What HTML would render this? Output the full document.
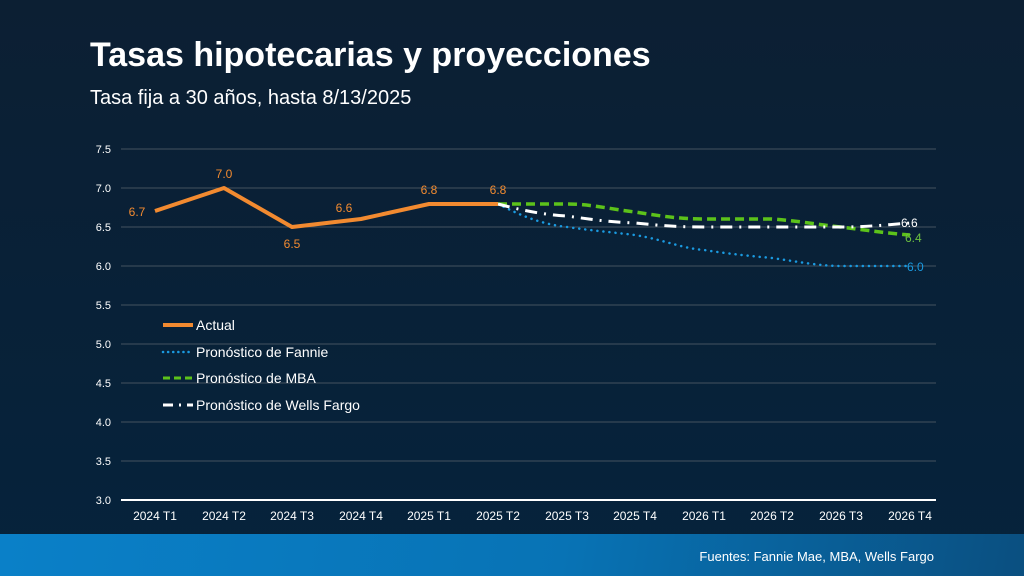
<!DOCTYPE html>
<html><head><meta charset="utf-8"><style>
html,body{margin:0;padding:0}
body{width:1024px;height:576px;overflow:hidden;position:relative;font-family:"Liberation Sans",Arial,sans-serif;background:linear-gradient(180deg,#0c1f33 0%,#05233c 100%)}
.t{position:absolute;left:90px;top:36px;color:#fff;font-size:34px;font-weight:bold}
.s{position:absolute;left:90px;top:87px;color:#fff;font-size:20px}
.bar{position:absolute;left:0;top:534px;width:1024px;height:42px;background:linear-gradient(100deg,#0a80c8 0%,#0873b5 55%,#0a4f80 100%)}
.src{position:absolute;right:90px;top:549px;color:#fff;font-size:13px}
svg{position:absolute;left:0;top:0}
</style></head><body>
<div class="t">Tasas hipotecarias y proyecciones</div>
<div class="s">Tasa fija a 30 años, hasta 8/13/2025</div>
<svg width="1024" height="534" font-family="Liberation Sans,Arial,sans-serif">
<g stroke="#44525f" stroke-width="1">
<line x1="121" x2="936" y1="149" y2="149"/><line x1="121" x2="936" y1="188" y2="188"/><line x1="121" x2="936" y1="227" y2="227"/><line x1="121" x2="936" y1="266" y2="266"/><line x1="121" x2="936" y1="305" y2="305"/><line x1="121" x2="936" y1="344" y2="344"/><line x1="121" x2="936" y1="383" y2="383"/><line x1="121" x2="936" y1="422" y2="422"/><line x1="121" x2="936" y1="461" y2="461"/>
</g>
<line x1="121" x2="936" y1="500" y2="500" stroke="#fff" stroke-width="2"/>
<g fill="#fff" font-size="11" text-anchor="end">
<text x="111" y="153">7.5</text><text x="111" y="192">7.0</text><text x="111" y="231">6.5</text><text x="111" y="270">6.0</text><text x="111" y="309">5.5</text><text x="111" y="348">5.0</text><text x="111" y="387">4.5</text><text x="111" y="426">4.0</text><text x="111" y="465">3.5</text><text x="111" y="504">3.0</text>
</g>
<g fill="#fff" font-size="12" text-anchor="middle">
<text x="155" y="520">2024 T1</text><text x="224" y="520">2024 T2</text><text x="292" y="520">2024 T3</text><text x="361" y="520">2024 T4</text><text x="429" y="520">2025 T1</text><text x="498" y="520">2025 T2</text><text x="567" y="520">2025 T3</text><text x="635" y="520">2025 T4</text><text x="704" y="520">2026 T1</text><text x="772" y="520">2026 T2</text><text x="841" y="520">2026 T3</text><text x="910" y="520">2026 T4</text>
</g>
<path d="M498,204 C520,215 540,224 567,227 C595,231 610,232 635,235 C665,240 680,248 704,250 C730,254 750,256 772,258 C800,262 820,266 841,266 L910,266" fill="none" stroke="#1a9ae0" stroke-width="2.5" stroke-dasharray="0.1 6" stroke-linecap="round"/>
<path d="M498,204 L567,204 C590,204 610,209 635,212 C660,216 680,219 704,219 L772,219 C800,221 820,225 841,227 C865,230 885,233 910,235" fill="none" stroke="#5cc21a" stroke-width="3.5" stroke-dasharray="9 5"/>
<path d="M498,204 C520,210 545,215 567,216 C595,220 610,222 635,223 C665,226 680,227 704,227 L841,227 C865,227 885,225 910,223" fill="none" stroke="#fff" stroke-width="3" stroke-dasharray="12 7 2 7"/>
<polyline points="155,211 224,188 292,227 361,219 429,204 498,204" fill="none" stroke="#f28a30" stroke-width="4" stroke-linejoin="round"/>
<g fill="#f28a30" font-size="12" text-anchor="middle">
<text x="137" y="216">6.7</text><text x="224" y="178">7.0</text><text x="292" y="248">6.5</text><text x="344" y="212">6.6</text><text x="429" y="194">6.8</text><text x="498" y="194">6.8</text>
</g>
<text x="901" y="227" fill="#fff" font-size="12">6.6</text>
<text x="905" y="242" fill="#6cc040" font-size="12">6.4</text>
<text x="907" y="271" fill="#1a9ae0" font-size="12">6.0</text>
<g font-size="14" fill="#fff">
<line x1="163" x2="193" y1="325" y2="325" stroke="#f28a30" stroke-width="4"/><text x="196" y="330">Actual</text>
<line x1="163" x2="193" y1="352" y2="352" stroke="#1a9ae0" stroke-width="2.5" stroke-dasharray="0.1 5" stroke-linecap="round"/><text x="196" y="357">Pronóstico de Fannie</text>
<line x1="163" x2="193" y1="378" y2="378" stroke="#5cc21a" stroke-width="3" stroke-dasharray="7 4"/><text x="196" y="383">Pronóstico de MBA</text>
<line x1="163" x2="193" y1="405" y2="405" stroke="#fff" stroke-width="3" stroke-dasharray="10 6 2 6"/><text x="196" y="410">Pronóstico de Wells Fargo</text>
</g>
</svg>
<div class="bar"></div>
<div class="src">Fuentes: Fannie Mae, MBA, Wells Fargo</div>
</body></html>
